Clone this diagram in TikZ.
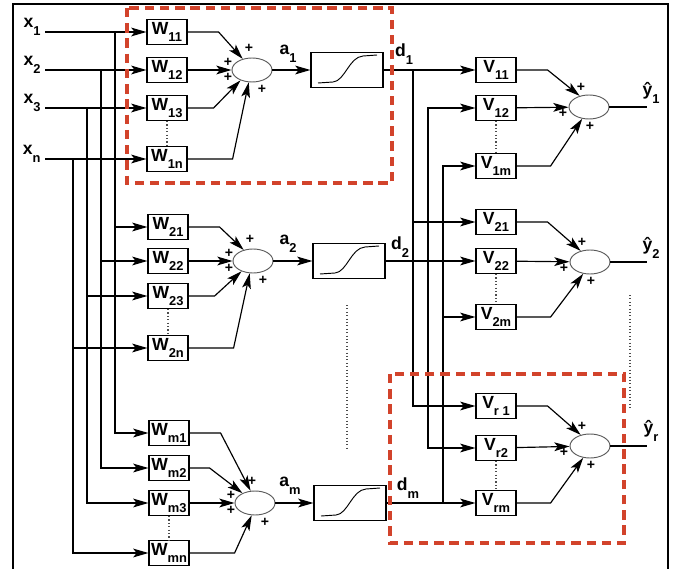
\documentclass[tikz,border=0pt]{standalone}
\usepackage{fontspec}
\setmainfont{Liberation Sans}
\definecolor{focusred}{HTML}{D2432B}
\usetikzlibrary{arrows.meta,shapes.geometric}
\newcommand{\lblsub}[2]{#1\raisebox{-6.5pt}{\fontsize{11}{11}\selectfont #2}}

\begin{document}
\begin{tikzpicture}[x=0.03cm,y=-0.03cm,>={Stealth[length=13pt,width=7.5pt,inset=3pt]},
  line width=1pt,
  every node/.style={font=\fontsize{15}{15}\selectfont\bfseries},
  wbox/.style={draw,line width=1pt,minimum width=1.2cm,minimum height=0.75cm,inner sep=0pt},
  sumnode/.style={draw=black!65,line width=0.8pt,ellipse,minimum width=1.2cm,minimum height=0.72cm,inner sep=0pt},
  sigbox/.style={draw,line width=1pt,minimum width=2.16cm,minimum height=1.05cm},
  plus/.style={inner sep=0pt,font=\fontsize{12}{12}\selectfont\bfseries},
  focus/.style={draw=focusred,line width=3pt,dash pattern=on 8pt off 5pt},
  dots/.style={dotted,line width=0.9pt,black!70}]
  \useasboundingbox (0,0) rectangle (675,569);
  \draw[line width=2pt] (13,569) -- (13,4) -- (668,4) -- (668,569);

  % inputs
  \node[anchor=east] (x1) at (45,27) {\lblsub{x}{1}};
  \node[anchor=east] (x2) at (45,65) {\lblsub{x}{2}};
  \node[anchor=east] (x3) at (45,103) {\lblsub{x}{3}};
  \node[anchor=east] (xn) at (45,154) {\lblsub{x}{n}};

  % first layer weights
  \node[wbox] (w11) at (167,32) {\lblsub{W}{11}};
  \node[wbox] (w12) at (167,70) {\lblsub{W}{12}};
  \node[wbox] (w13) at (167,108) {\lblsub{W}{13}};
  \node[wbox] (w1n) at (167,159) {\lblsub{W}{1n}};
  \node[wbox] (w21) at (168,227) {\lblsub{W}{21}};
  \node[wbox] (w22) at (168,261) {\lblsub{W}{22}};
  \node[wbox] (w23) at (168,296) {\lblsub{W}{23}};
  \node[wbox] (w2n) at (168,348) {\lblsub{W}{2n}};
  \node[wbox] (wm1) at (169,433) {\lblsub{W}{m1}};
  \node[wbox] (wm2) at (169,468) {\lblsub{W}{m2}};
  \node[wbox] (wm3) at (169,503) {\lblsub{W}{m3}};
  \node[wbox] (wmn) at (169,553) {\lblsub{W}{mn}};

  \draw[->] (x1.east |- w11) -- (w11);
  \draw[->] (x2.east |- w12) -- (w12);
  \draw[->] (x3.east |- w13) -- (w13);
  \draw[->] (xn.east |- w1n) -- (w1n);

  % input bus
  \coordinate (bus1) at (115,32);
  \coordinate (bus2) at (101,70);
  \coordinate (bus3) at (87,108);
  \coordinate (busn) at (73,159);
  \draw[->] (bus1) |- (w21);
  \draw[->] (bus1) |- (wm1);
  \draw[->] (bus2) |- (w22);
  \draw[->] (bus2) |- (wm2);
  \draw[->] (bus3) |- (w23);
  \draw[->] (bus3) |- (wm3);
  \draw[->] (busn) |- (w2n);
  \draw[->] (busn) |- (wmn);

  \draw[dots] (w13) -- (w1n);
  \draw[dots] (w23) -- (w2n);
  \draw[dots] (wm3) -- (wmn);

  % hidden sums and sigmoids
  \node[sumnode] (s1) at (252,70) {};
  \node[sumnode] (s2) at (253,261) {};
  \node[sumnode] (sm) at (255,503) {};
  \node[sigbox] (g1) at (347,70) {};
  \node[sigbox] (g2) at (349,261) {};
  \node[sigbox] (gm) at (350,503) {};
  \foreach \g in {g1,g2,gm}
    \draw[line width=0.8pt,shift={(\g.center)}] (-29,13) -- (-14,12) .. controls (-2,11) and (2,-13) .. (16,-14) -- (30,-15);

  \draw[->] (w11.east) -- ++(31,0) -- (s1.130);
  \draw[->] (w12) -- (s1);
  \draw[->] (w13.east) -- ++(26,0) -- (s1.222);
  \draw[->] (w1n.east) -- ++(45,0) -- (s1.255);
  \draw[->] (w21.east) -- ++(31,0) -- (s2.130);
  \draw[->] (w22) -- (s2);
  \draw[->] (w23.east) -- ++(26,0) -- (s2.222);
  \draw[->] (w2n.east) -- ++(45,0) -- (s2.255);
  \draw[->] (wm1.east) -- ++(31,0) -- (sm.110);
  \draw[->] (wm2.east) -- ++(20,0) -- (sm.142);
  \draw[->] (wm3) -- (sm);
  \draw[->] (wmn.east) -- ++(45,0) -- (sm.255);

  \foreach \s in {s1,s2,sm} {
    \node[plus] at ([shift={(-3,-22)}]\s) {+};
    \node[plus] at ([shift={(-24,-8)}]\s) {+};
    \node[plus] at ([shift={(-24,7)}]\s) {+};
    \node[plus] at ([shift={(10,19)}]\s) {+};
  }

  \draw[->] (s1) -- (g1);
  \draw[->] (s2) -- (g2);
  \draw[->] (sm) -- (gm);
  \node (a1) at (288,54) {\lblsub{a}{1}};
  \node (a2) at (288,244) {\lblsub{a}{2}};
  \node (am) at (290,486) {\lblsub{a}{m}};

  % output weights
  \node[wbox] (v11) at (496,70) {\lblsub{V}{11}};
  \node[wbox] (v12) at (496,108) {\lblsub{V}{12}};
  \node[wbox] (v1m) at (496,166) {\lblsub{V}{1m}};
  \node[wbox] (v21) at (496,222) {\lblsub{V}{21}};
  \node[wbox] (v22) at (496,261) {\lblsub{V}{22}};
  \node[wbox] (v2m) at (496,317) {\lblsub{V}{2m}};
  \node[wbox] (vr1) at (496,406) {\lblsub{V}{r 1}};
  \node[wbox] (vr2) at (496,448) {\lblsub{V}{r2}};
  \node[wbox] (vrm) at (496,503) {\lblsub{V}{rm}};

  \draw[->] (g1) -- (v11);
  \draw[->] (g2) -- (v22);
  \draw[->] (gm) -- (vrm);
  \node (d1) at (404,54) {\lblsub{d}{1}};
  \node (d2) at (400,247) {\lblsub{d}{2}};
  \node (dm) at (408,488) {\lblsub{d}{m}};

  % hidden bus
  \coordinate (dbus1) at (413,70);
  \coordinate (dbus2) at (428,261);
  \coordinate (dbusm) at (443,503);
  \draw[->] (dbus1) |- (v21);
  \draw[->] (dbus1) |- (vr1);
  \draw[->] (dbus2) |- (v12);
  \draw[->] (dbus2) |- (vr2);
  \draw[->] (dbusm) |- (v1m);
  \draw[->] (dbusm) |- (v2m);

  \draw[dots] (v12) -- (v1m);
  \draw[dots] (v22) -- (v2m);
  \draw[dots] (vr2) -- (vrm);

  % output sums
  \node[sumnode] (sumy1) at (589,107) {};
  \node[sumnode] (sumy2) at (590,262) {};
  \node[sumnode] (sumyr) at (590,446) {};
  \draw[->] (v11.east) -- ++(31,0) -- (sumy1.130);
  \draw[->] (v12) -- (sumy1);
  \draw[->] (v1m.east) -- ++(34,0) -- (sumy1.240);
  \draw[->] (v21.east) -- ++(31,0) -- (sumy2.130);
  \draw[->] (v22) -- (sumy2);
  \draw[->] (v2m.east) -- ++(34,0) -- (sumy2.240);
  \draw[->] (vr1.east) -- ++(31,0) -- (sumyr.130);
  \draw[->] (vr2) -- (sumyr);
  \draw[->] (vrm.east) -- ++(34,0) -- (sumyr.240);
  \foreach \s in {sumy1,sumy2,sumyr} {
    \node[plus] at ([shift={(-8,-20)}]\s) {+};
    \node[plus] at ([shift={(-26,6)}]\s) {+};
    \node[plus] at ([shift={(1,19)}]\s) {+};
  }

  \coordinate (yend1) at (647,107);
  \coordinate (yend2) at (647,262);
  \coordinate (yendr) at (647,446);
  \draw (sumy1) -- (yend1);
  \draw (sumy2) -- (yend2);
  \draw (sumyr) -- (yendr);
  \node (yh1) at (651,93) {\lblsub{ŷ}{1}};
  \node (yh2) at (651,248) {\lblsub{ŷ}{2}};
  \node (yhr) at (651,431) {\lblsub{ŷ}{r}};

  \draw[dots] (347,305) -- (347,450);
  \draw[dots] (630,295) -- (630,410);

  % highlighted parts
  \draw[focus] (127,8) rectangle (392,183);
  \draw[focus] (390,374) rectangle (624,543);
\end{tikzpicture}
\end{document}
